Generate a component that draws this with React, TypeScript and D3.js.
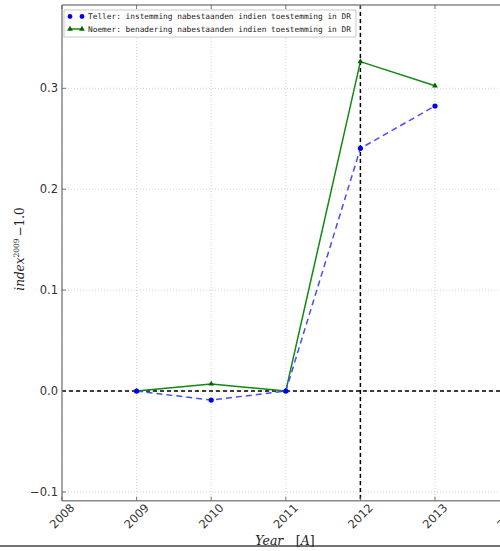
import React from "react";
import * as d3 from "d3";

const years = [2009, 2010, 2011, 2012, 2013];
const teller = [0.0, -0.009, 0.0, 0.2405, 0.2825];
const noemer = [0.0, 0.007, 0.0, 0.3265, 0.3025];
const xTicks = [2008, 2009, 2010, 2011, 2012, 2013, 2014];
const yTicks = [-0.1, 0.0, 0.1, 0.2, 0.3];
const legendLabels = [
  "Teller: instemming nabestaanden indien toestemming in DR",
  "Noemer: benadering nabestaanden indien toestemming in DR",
];

const W = 500;
const H = 551;
const L = 62, R = 509.6, T = 5, B = 500.7;

export default function App() {
  const x = d3.scaleLinear().domain([2008, 2014]).range([L, R]);
  const y = d3.scaleLinear().domain([-0.1087, 0.3826]).range([B, T]);
  const line = d3
    .line<number>()
    .x((_, i) => x(years[i]))
    .y((d) => y(d));
  const tri = d3.symbol().type(d3.symbolTriangle).size(14)();
  const fmt = (v: number) => (v < 0 ? "\u2212" : "") + Math.abs(v).toFixed(1);

  return (
    <svg
      width={W}
      height={H}
      style={{ position: "absolute", left: 0, top: 0, background: "#fff" }}
      fontFamily="DejaVu Sans"
    >
      <defs>
        <clipPath id="plot">
          <rect x={L} y={T} width={R - L} height={B - T} />
        </clipPath>
      </defs>
      {/* grid */}
      {xTicks.map((t) => (
        <line key={"gx" + t} x1={x(t)} x2={x(t)} y1={T} y2={B} stroke="#c8c8c8" strokeWidth={0.8} strokeDasharray="1,2" />
      ))}
      {yTicks.map((t) => (
        <line key={"gy" + t} x1={L} x2={W} y1={y(t)} y2={y(t)} stroke="#c8c8c8" strokeWidth={0.8} strokeDasharray="1,2" />
      ))}
      <g clipPath="url(#plot)">
        {/* reference lines */}
        <line x1={L} x2={R} y1={y(0)} y2={y(0)} stroke="#000" strokeWidth={1.5} strokeDasharray="4,3" />
        <line x1={x(2012)} x2={x(2012)} y1={T} y2={B} stroke="#000" strokeWidth={1.5} strokeDasharray="4,3" />
        {/* series */}
        <path d={line(noemer) || ""} fill="none" stroke="#118811" strokeWidth={1.5} />
        {noemer.map((v, i) => (
          <path key={"n" + i} d={tri || ""} transform={`translate(${x(years[i])},${y(v)})`} fill="#006400" />
        ))}
        <path d={line(teller) || ""} fill="none" stroke="#4a4aff" strokeWidth={1.5} strokeDasharray="6,4" />
        {teller.map((v, i) => (
          <circle key={"t" + i} cx={x(years[i])} cy={y(v)} r={2.6} fill="#0000ee" />
        ))}
      </g>
      {/* spines */}
      <line x1={L} x2={L} y1={T} y2={B} stroke="#888" strokeWidth={1.5} />
      <line x1={L} x2={W} y1={T} y2={T} stroke="#888" strokeWidth={1.5} />
      <line x1={L} x2={W} y1={B} y2={B} stroke="#888" strokeWidth={1.5} />
      {/* ticks */}
      {xTicks.map((t) => (
        <g key={"xt" + t}>
          <line x1={x(t)} x2={x(t)} y1={B} y2={B - 4} stroke="#555" strokeWidth={0.8} />
          <line x1={x(t)} x2={x(t)} y1={T} y2={T + 4} stroke="#555" strokeWidth={0.8} />
          <text
            x={x(t)}
            y={516}
            transform={`rotate(-45,${x(t)},516)`}
            textAnchor="middle"
            dominantBaseline="central"
            fontSize={11.5}
            fill="#333"
          >
            {t}
          </text>
        </g>
      ))}
      {yTicks.map((t) => (
        <g key={"yt" + t}>
          <line x1={L} x2={L + 4} y1={y(t)} y2={y(t)} stroke="#555" strokeWidth={0.8} />
          <text x={L - 4} y={y(t)} textAnchor="end" dominantBaseline="central" fontSize={11.5} fill="#333">
            {fmt(t)}
          </text>
        </g>
      ))}
      {/* legend */}
      <rect x={64} y={10} width={292} height={27} fill="#fff" stroke="#bbb" strokeWidth={0.8} />
      {legendLabels.map((lab, i) => {
        const cy = 16.5 + i * 12.5;
        return (
          <g key={"lg" + i}>
            {i === 0 ? (
              <>
                <circle cx={70} cy={cy} r={2.4} fill="#0000ee" />
                <circle cx={82} cy={cy} r={2.4} fill="#0000ee" />
              </>
            ) : (
              <>
                <line x1={70} x2={82} y1={cy} y2={cy} stroke="#118811" strokeWidth={1.5} />
                <path d={tri || ""} transform={`translate(70,${cy})`} fill="#006400" />
                <path d={tri || ""} transform={`translate(82,${cy})`} fill="#006400" />
              </>
            )}
            <text x={88} y={cy} dominantBaseline="central" fontFamily="DejaVu Sans Mono" fontSize={7.8} fill="#222">
              {lab}
            </text>
          </g>
        );
      })}
      {/* axis labels */}
      <text
        x={0}
        y={0}
        transform="translate(24,249) rotate(-90)"
        textAnchor="middle"
        fontFamily="DejaVu Serif"
        fontSize={12}
        fill="#222"
      >
        <tspan fontStyle="italic">index</tspan>
        <tspan fontSize={7.5} dy={-5}>2009</tspan>
        <tspan dx={2} dy={5}>{"\u22121.0"}</tspan>
      </text>
      <line x1={0} x2={W} y1={546} y2={546} stroke="#444" strokeWidth={1.5} />
      <text x={285} y={545} textAnchor="middle" fontFamily="DejaVu Serif" fontSize={12.5} fill="#222">
        <tspan fontStyle="italic">Year</tspan>
        <tspan>{"\u2003["}</tspan>
        <tspan fontStyle="italic">A</tspan>
        <tspan>]</tspan>
      </text>
    </svg>
  );
}
